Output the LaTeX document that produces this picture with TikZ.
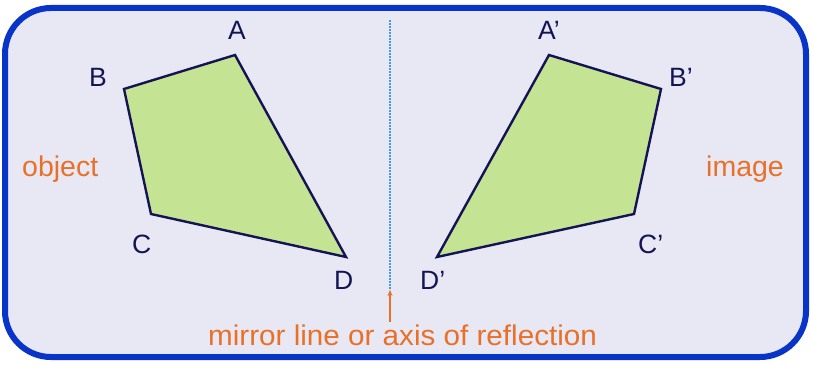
\documentclass[tikz,border=0pt]{standalone}
\usepackage{fontspec}
\setmainfont{Liberation Sans}
\usetikzlibrary{arrows.meta}
\definecolor{framebl}{RGB}{8,52,200}
\definecolor{bgpanel}{RGB}{232,232,244}
\definecolor{navy}{RGB}{20,20,85}
\definecolor{leaf}{RGB}{196,228,148}
\definecolor{dotbl}{RGB}{70,155,220}
\definecolor{orng}{RGB}{232,112,40}
\tikzset{
  vlabel/.style={text=navy, font=\fontsize{26.5}{30}\selectfont, inner sep=0pt, anchor=base west},
  olabel/.style={text=orng, font=\fontsize{28.5}{32}\selectfont, inner sep=0pt, anchor=base west},
  quadstyle/.style={draw=navy, fill=leaf, line width=2.4pt, line join=miter},
}
\begin{document}
\begin{tikzpicture}[x=1pt,y=-1pt]
\useasboundingbox (0,0) rectangle (814,366);
\fill[white] (0,0) rectangle (814,366);
\draw[framebl, fill=bgpanel, line width=6pt, rounded corners=46pt] (5,8) rectangle (806,357);
% object
\coordinate (A) at (235,55);
\coordinate (B) at (124,89);
\coordinate (C) at (151,214);
\coordinate (D) at (346,257);
\draw[quadstyle] (A) -- (B) -- (C) -- (D) -- cycle;
% image
\coordinate (A2) at (549,55);
\coordinate (B2) at (661,89);
\coordinate (C2) at (634,214);
\coordinate (D2) at (437,257);
\draw[quadstyle] (A2) -- (B2) -- (C2) -- (D2) -- cycle;
% mirror
\coordinate (mt) at (390,20);
\coordinate (mb) at (390,290);
\draw[dotbl, line width=1.6pt, dash pattern=on 1.6pt off 1.4pt] (mt) -- (mb);
% labels
\node[vlabel] (la) at (228,40) {A};
\node[vlabel] (lb) at (89,87) {B};
\node[vlabel] (lc) at (132,254) {C};
\node[vlabel] (ld) at (334,289) {D};
\node[vlabel] (la2) at (538,40) {A’};
\node[vlabel] (lb2) at (669,87) {B’};
\node[vlabel] (lc2) at (638,254) {C’};
\node[vlabel] (ld2) at (420,289) {D’};
\node[olabel] (obj) at (22,177) {object};
\node[olabel] (img) at (706,177) {image};
\node[olabel] (mir) at (208,345) {\scalebox{1.04}[1]{mirror line or axis of reflection}};
\coordinate (arrtip) at (390,290);
\coordinate (arrbase) at (390,322);
\draw[orng, line width=1.5pt, -{Stealth[length=6pt,width=5pt]}] (arrbase) -- (arrtip);
\end{tikzpicture}
\end{document}
